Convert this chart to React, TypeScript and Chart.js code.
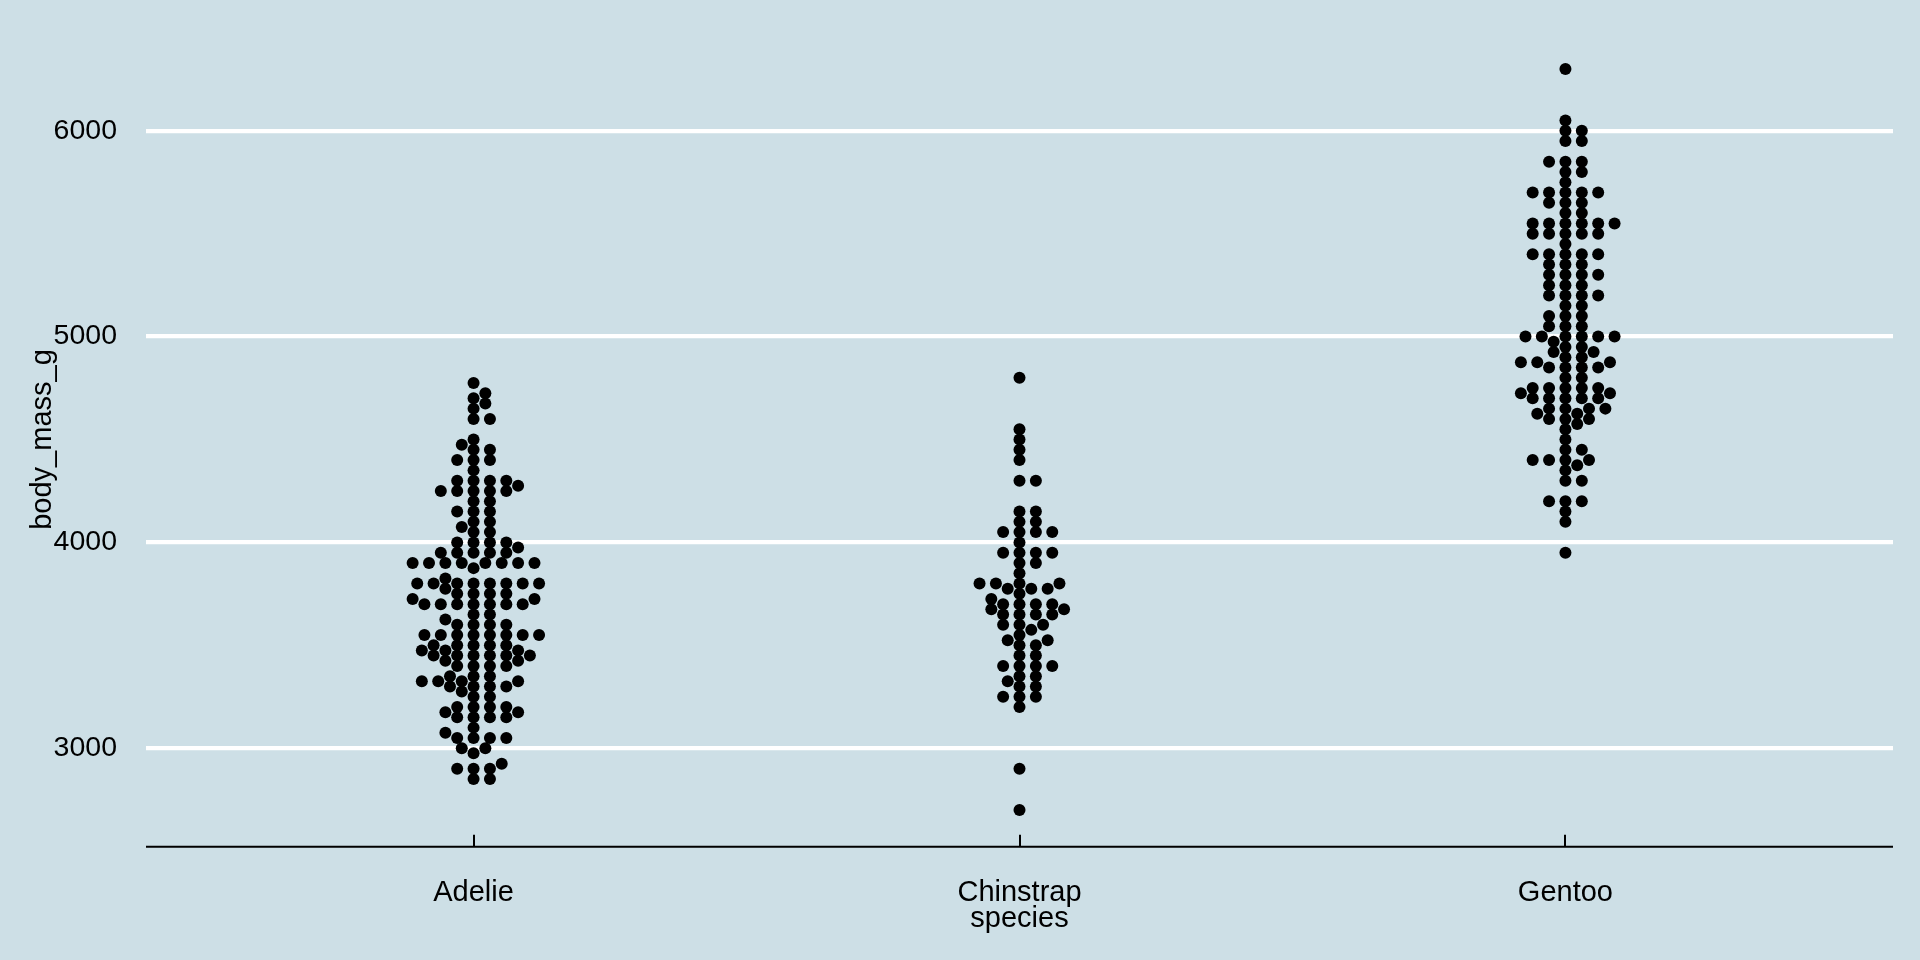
import React, { useEffect, useRef } from 'react';
import { Chart, registerables } from 'chart.js';

Chart.register(...registerables);

// ---------------- data ----------------
const CATEGORIES = ['Adelie', 'Chinstrap', 'Gentoo'];

const ADELIE = [
  3750, 3800, 3250, 3450, 3650, 3625, 4675, 3475, 4250, 3300, 3700, 3200, 3800, 4400, 3700, 3450, 4500, 3325, 4200,
  3400, 3600, 3800, 3950, 3800, 3800, 3550, 3200, 3150, 3950,
  3250, 3900, 3300, 3900, 3325, 4150, 3950, 3550, 3300, 4650, 3150, 3900, 3100, 4400, 3000, 4600, 3425, 2975, 3450, 4150,
  3500, 4300, 3450, 4050, 2900, 3700, 3550, 3800, 2850, 3750, 3150, 4400, 3600, 4050, 2850, 3950, 3350, 4100, 3050, 4450,
  3600, 3900, 3550, 4150, 3700, 4250, 3700, 3900, 3550, 4000, 3200, 4700, 3800, 4200, 3350, 3550, 3800, 3500, 3950, 3600,
  3550, 4300, 3400, 4450, 3300, 4300, 3700, 4350, 2900, 4100, 3725, 4725, 3075, 4250, 2925, 3550, 3750, 3900, 3175, 4775,
  3825, 4600, 3200, 4275, 3900, 4075, 2900, 3775, 3350, 3325, 3150, 3500, 3450, 3875, 3050, 4000, 3275, 4300, 3050, 4000,
  3325, 3500, 3500, 4475, 3425, 3900, 3175, 3975, 3400, 4250, 3400, 3475, 3050, 3725, 3000, 3650, 4250, 3475, 3450, 3750,
  3700, 4000,
];

const CHINSTRAP = [
  3500, 3900, 3650, 3525, 3725, 3950, 3250, 3750, 4150, 3700,
  3800, 3775, 3700, 4050, 3575, 4050, 3300, 3700, 3450, 4400,
  3600, 3400, 2900, 3800, 3300, 4150, 3400, 3800, 3700, 4550,
  3200, 4300, 3350, 4100, 3600, 3900, 3850, 4800, 2700, 4500,
  3950, 3650, 3550, 3500, 3675, 4450, 3400, 4300, 3250, 3675,
  3325, 3950, 3600, 4050, 3350, 3450, 3250, 4050, 3800, 3525,
  3950, 3650, 3650, 4000, 3400, 3775, 4100, 3775,
];

const GENTOO = [
  4500, 5700, 4450, 5700, 5400, 4550, 4800, 5200, 4400, 5150,
  4650, 5550, 4650, 5850, 4200, 5850, 4150, 6300, 4800, 5350,
  5700, 5000, 4400, 5050, 5000, 5100, 4100, 5650, 4600, 5550,
  5250, 4700, 5050, 6050, 5150, 5400, 4950, 5250, 4350, 5350,
  3950, 5700, 4300, 4750, 5550, 4900, 4200, 5400, 5100, 5300,
  4850, 5300, 4400, 5000, 4900, 5050, 4300, 5000, 4450, 5550,
  4200, 5300, 4400, 5650, 4700, 5700, 4650, 5800, 4700, 5550,
  4750, 5000, 5100, 5200, 4700, 5800, 4600, 6000, 4750, 5950,
  4625, 5450, 4725, 5350, 4750, 5600, 4600, 5300, 4875, 5550,
  4950, 5400, 4750, 5650, 4850, 5200, 4925, 4875, 4625, 5250,
  4850, 5600, 4975, 5500, 4725, 5500, 4700, 5500, 4575, 5500,
  5000, 5950, 4650, 5500, 4375, 5850, 4875, 6000, 4925, 4850,
  5750, 5200, 5400,
];

const Y_TICKS = [3000, 4000, 5000, 6000];
const X_TITLE = 'species';
const Y_TITLE = 'body_mass_g';

// ---------------- styling / layout ----------------
const BG = '#cddfe6';
const FONT_FAMILY = '"Liberation Sans", Arial, Helvetica, sans-serif';
const SWARM_VALUE_SIZE = 36; // collision size along the value axis (g)
const SWARM_GROUP_SIZE = 0.03; // horizontal step (category units)

// beeswarm "swarm" placement, ascending priority
function swarmOffsets(values: number[]): number[] {
  const order = values.map((_, i) => i).sort((a, b) => values[a] - values[b] || a - b);
  const placed: { x: number; y: number }[] = [];
  const res: number[] = new Array(values.length).fill(0);
  for (const i of order) {
    const xi = values[i] / SWARM_VALUE_SIZE;
    const pre = placed.filter((p) => xi - p.x < 1);
    let yi = 0;
    if (pre.length) {
      pre.sort((a, b) => Math.abs(a.y) - Math.abs(b.y));
      const offs = pre.map((p) => Math.sqrt(Math.abs(1 - (xi - p.x) ** 2)));
      const cands = [0, ...pre.map((p, k) => p.y + offs[k]), ...pre.map((p, k) => p.y - offs[k])];
      let best = 0;
      let bestAbs = Infinity;
      for (const c of cands) {
        const bad = pre.some((p) => (xi - p.x) ** 2 + (c - p.y) ** 2 < 0.999);
        if (!bad && Math.abs(c) < bestAbs) {
          bestAbs = Math.abs(c);
          best = c;
        }
      }
      yi = best;
    }
    placed.push({ x: xi, y: yi });
    res[i] = yi;
  }
  return res;
}

const bgPlugin = {
  id: 'bgFill',
  beforeDraw(chart: any) {
    const { ctx, width, height } = chart;
    ctx.save();
    ctx.fillStyle = BG;
    ctx.fillRect(0, 0, width, height);
    ctx.restore();
  },
};

const axisPlugin = {
  id: 'axisLine',
  afterDatasetsDraw(chart: any) {
    const { ctx, chartArea } = chart;
    const xs = chart.scales.x;
    const yb = chartArea.bottom - 0.3;
    ctx.save();
    ctx.strokeStyle = '#000';
    ctx.lineWidth = 2;
    ctx.beginPath();
    ctx.moveTo(chartArea.left, yb);
    ctx.lineTo(chartArea.right, yb);
    ctx.stroke();
    for (const t of xs.ticks) {
      const px = Math.round(xs.getPixelForValue(t.value));
      ctx.beginPath();
      ctx.moveTo(px, yb);
      ctx.lineTo(px, yb - 12);
      ctx.stroke();
    }
    ctx.restore();
  },
};

const zeroPad = (s: any) => {
  s.paddingTop = 0;
  s.paddingBottom = 0;
  s.paddingLeft = 0;
  s.paddingRight = 0;
};

export default function App() {
  const ref = useRef<HTMLCanvasElement | null>(null);

  useEffect(() => {
    if (!ref.current) return;
    const series = [ADELIE, CHINSTRAP, GENTOO];
    const datasets = series.map((vals, gi) => {
      const offs = swarmOffsets(vals);
      return {
        label: CATEGORIES[gi],
        data: vals.map((v, i) => ({ x: gi + 1 + offs[i] * SWARM_GROUP_SIZE, y: v })),
        pointRadius: 6,
        pointHoverRadius: 6,
        pointBackgroundColor: '#000',
        pointBorderColor: '#000',
        pointBorderWidth: 0,
        showLine: false,
      };
    });

    const font = { family: FONT_FAMILY, size: 29 };

    const chart = new Chart(ref.current, {
      type: 'scatter',
      data: { datasets },
      options: {
        animation: false,
        responsive: true,
        maintainAspectRatio: false,
        events: [],
        layout: { padding: { top: 32, right: 27, left: 0, bottom: 0 } },
        plugins: { legend: { display: false }, tooltip: { enabled: false } },
        scales: {
          x: {
            type: 'linear',
            min: 0.4,
            max: 3.6,
            afterBuildTicks: (s: any) => {
              s.ticks = CATEGORIES.map((_, i) => ({ value: i + 1 }));
            },
            afterFit: (s: any) => {
              s.height = 113;
              zeroPad(s);
            },
            ticks: {
              font,
              color: '#000',
              padding: 29,
              autoSkip: false,
              maxRotation: 0,
              callback: (v: any) => CATEGORIES[Math.round(Number(v)) - 1] ?? '',
            },
            grid: { display: false, drawTicks: false },
            border: { display: false },
            title: { display: true, text: X_TITLE, font, color: '#000', padding: { top: 0, bottom: 24 } },
          },
          y: {
            type: 'linear',
            min: 2520,
            max: 6480,
            afterBuildTicks: (s: any) => {
              s.ticks = Y_TICKS.map((v) => ({ value: v }));
            },
            afterFit: (s: any) => {
              s.width = 146;
              zeroPad(s);
            },
            ticks: { font: { family: FONT_FAMILY, size: 28.5 }, color: '#000', padding: 29, callback: (v: any) => String(v) },
            grid: { color: '#ffffff', lineWidth: 4.3, drawTicks: false },
            border: { display: false },
            title: { display: true, text: Y_TITLE, font, color: '#000', padding: { top: 26, bottom: 0 } },
          },
        },
      },
      plugins: [bgPlugin, axisPlugin],
    } as any);

    return () => chart.destroy();
  }, []);

  return (
    <div style={{ position: 'fixed', left: 0, top: 0, width: 1920, height: 960, background: BG }}>
      <canvas ref={ref} />
    </div>
  );
}
